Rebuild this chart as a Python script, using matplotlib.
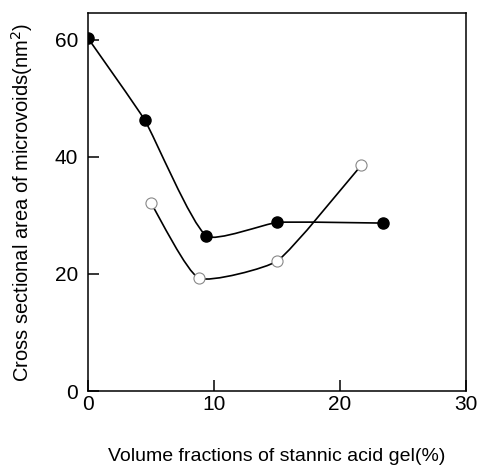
import matplotlib
matplotlib.use("Agg")
import matplotlib.pyplot as plt
import numpy as np
from matplotlib.path import Path
from matplotlib.patches import PathPatch

plt.rcParams['font.family'] = ['Liberation Sans', 'DejaVu Sans']

# filled circles
x_filled = [0.0, 4.5, 9.4, 15.0, 23.4]
y_filled = [60.3, 46.3, 26.5, 28.8, 28.7]
# open circles
x_open = [5.0, 8.8, 15.0, 21.7]
y_open = [32.1, 19.3, 22.2, 38.6]

# rough pixel scale of the axes so the smoothing isn't skewed
SX, SY = 12.6, 5.85


def smooth_path(xs, ys, tension=0.5):
    # catmull-rom through the points, drawn as cubic bezier segments
    p = np.column_stack([np.array(xs) * SX, np.array(ys) * SY])
    verts = [p[0]]
    codes = [Path.MOVETO]
    n = len(p)
    for i in range(n - 1):
        p0 = p[i - 1] if i > 0 else p[i]
        p1, p2 = p[i], p[i + 1]
        p3 = p[i + 2] if i + 2 < n else p[i + 1]
        d1 = np.linalg.norm(p2 - p1)
        t1 = (p2 - p0) / max(np.linalg.norm(p2 - p0), 1e-9) * d1
        t2 = (p3 - p1) / max(np.linalg.norm(p3 - p1), 1e-9) * d1
        c1 = p1 + t1 * tension / 3
        c2 = p2 - t2 * tension / 3
        verts += [c1, c2, p2]
        codes += [Path.CURVE4] * 3
    v = np.array(verts) / [SX, SY]
    return Path(v, codes)


fig = plt.figure(figsize=(4.8, 4.68), dpi=100)
ax = fig.add_axes([0.1833, 0.1645, 0.7875, 0.8077])

ax.add_patch(PathPatch(smooth_path(x_filled, y_filled, 0.45), fill=False, lw=1.2, color='black'))
ax.add_patch(PathPatch(smooth_path(x_open, y_open, 0.45), fill=False, lw=1.2, color='black'))

ax.plot(x_filled, y_filled, 'o', color='black', ms=8, zorder=3)
ax.plot(x_open, y_open, 'o', mfc='white', mec='#888888', mew=0.8, ms=8, zorder=3)

ax.set_xlim(0, 30)
ax.set_ylim(0, 64.6)
ax.set_xticks([0, 10, 20, 30])
ax.set_yticks([0, 20, 40, 60])
ax.tick_params(direction='in', length=8, width=1.1, labelsize=15)
ax.tick_params(axis='x', pad=3)
ax.tick_params(axis='y', pad=7)
for s in ax.spines.values():
    s.set_linewidth(1.1)

ax.set_xlabel('Volume fractions of stannic acid gel(%)', fontsize=14, labelpad=24)
ax.set_ylabel('Cross sectional area of microvoids(nm$^2$)', fontsize=14.5, labelpad=14)

fig.savefig('out.png', dpi=100)
